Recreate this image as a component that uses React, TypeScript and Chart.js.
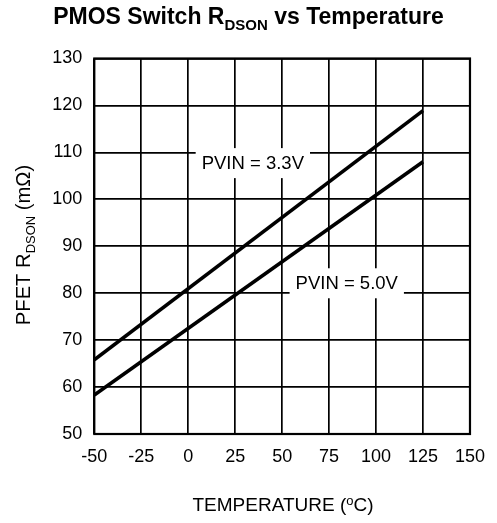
import React, { useEffect, useRef } from "react";
import { Chart, registerables } from "chart.js";

Chart.register(...registerables);

const temps = [-50, 125];
const rdson33 = [65.8, 118.9];
const rdson50 = [58.3, 108];
const xTicks = [-50, -25, 0, 25, 50, 75, 100, 125, 150];
const yTicks = [50, 60, 70, 80, 90, 100, 110, 120, 130];
const labels = [
  { text: "PVIN = 3.3V", x: 34.4, y: 107.5 },
  { text: "PVIN = 5.0V", x: 84.4, y: 81.9 },
];

const FONT = "'Liberation Sans', Arial, sans-serif";

type Part = { t: string; sub?: boolean; sup?: boolean };

function drawParts(ctx: CanvasRenderingContext2D, parts: Part[], size: number, weight: string, x: number, y: number) {
  const small = Math.round(size * 0.66);
  let total = 0;
  const widths = parts.map((p) => {
    ctx.font = `${weight} ${p.sub || p.sup ? small : size}px ${FONT}`;
    const w = ctx.measureText(p.t).width;
    total += w;
    return w;
  });
  let cx = x - total / 2;
  ctx.textBaseline = "middle";
  ctx.textAlign = "left";
  parts.forEach((p, i) => {
    ctx.font = `${weight} ${p.sub || p.sup ? small : size}px ${FONT}`;
    const dy = p.sub ? size * 0.32 : p.sup ? -size * 0.22 : 0;
    ctx.fillText(p.t, cx, y + dy);
    cx += widths[i];
  });
}

const decor = {
  id: "decor",
  afterDraw(chart: any) {
    const ctx: CanvasRenderingContext2D = chart.ctx;
    const { left, right, top, bottom } = chart.chartArea;
    const xs = chart.scales.x;
    const ys = chart.scales.y;
    ctx.save();
    // frame
    ctx.strokeStyle = "#000";
    ctx.lineWidth = 2.2;
    ctx.strokeRect(left, top, right - left, bottom - top);
    // annotations
    labels.forEach((l) => {
      ctx.font = `18.5px ${FONT}`;
      const px = xs.getPixelForValue(l.x);
      const py = ys.getPixelForValue(l.y);
      const w = ctx.measureText(l.text).width;
      ctx.fillStyle = "#fff";
      ctx.fillRect(px - w / 2 - 6, py - 16, w + 12, 30);
      ctx.fillStyle = "#000";
      ctx.textAlign = "center";
      ctx.textBaseline = "middle";
      ctx.fillText(l.text, px, py);
    });
    ctx.fillStyle = "#000";
    // title
    drawParts(ctx, [{ t: "PMOS Switch R" }, { t: "DSON", sub: true }, { t: " vs Temperature" }], 23, "bold", 248.5, 18);
    // x title
    drawParts(ctx, [{ t: "TEMPERATURE (" }, { t: "o", sup: true }, { t: "C)" }], 19, "normal", 283, 506);
    // y title
    ctx.save();
    ctx.translate(24.5, 245);
    ctx.rotate(-Math.PI / 2);
    drawParts(ctx, [{ t: "PFET R" }, { t: "DSON", sub: true }, { t: " (m\u03a9)" }], 20.2, "normal", 0, 0);
    ctx.restore();
    ctx.restore();
  },
};

export default function App() {
  const ref = useRef<HTMLCanvasElement>(null);
  useEffect(() => {
    const chart = new Chart(ref.current!, {
      type: "scatter",
      data: {
        datasets: [
          {
            label: "PVIN = 3.3V",
            data: temps.map((t, i) => ({ x: t, y: rdson33[i] })),
            showLine: true,
            borderColor: "#000",
            borderWidth: 3.6,
            pointRadius: 0,
          },
          {
            label: "PVIN = 5.0V",
            data: temps.map((t, i) => ({ x: t, y: rdson50[i] })),
            showLine: true,
            borderColor: "#000",
            borderWidth: 3.6,
            pointRadius: 0,
          },
        ],
      },
      options: {
        animation: false,
        responsive: false,
        layout: { padding: { left: 0, top: 58.5, right: 26, bottom: 0 } },
        plugins: { legend: { display: false }, tooltip: { enabled: false } },
        scales: {
          x: {
            type: "linear",
            min: -50,
            max: 150,
            afterBuildTicks: (s: any) => {
              s.ticks = xTicks.map((v) => ({ value: v }));
            },
            afterFit: (s: any) => {
              s.height = 89;
            },
            grid: { color: "#000", lineWidth: 1.7, drawTicks: false },
            border: { display: false },
            ticks: { color: "#000", font: { family: FONT, size: 18 }, padding: 12, maxRotation: 0 },
          },
          y: {
            type: "linear",
            min: 50,
            max: 130,
            afterBuildTicks: (s: any) => {
              s.ticks = yTicks.map((v) => ({ value: v }));
            },
            afterFit: (s: any) => {
              s.width = 94.3;
            },
            grid: { color: "#000", lineWidth: 1.7, drawTicks: false },
            border: { display: false },
            ticks: { color: "#000", font: { family: FONT, size: 18 }, padding: 12 },
          },
        },
      },
      plugins: [decor],
    });
    return () => chart.destroy();
  }, []);
  return (
    <div style={{ position: "fixed", left: 0, top: 0, width: 497, height: 523, background: "#fff" }}>
      <canvas ref={ref} width={497} height={523} style={{ display: "block" }} />
    </div>
  );
}
